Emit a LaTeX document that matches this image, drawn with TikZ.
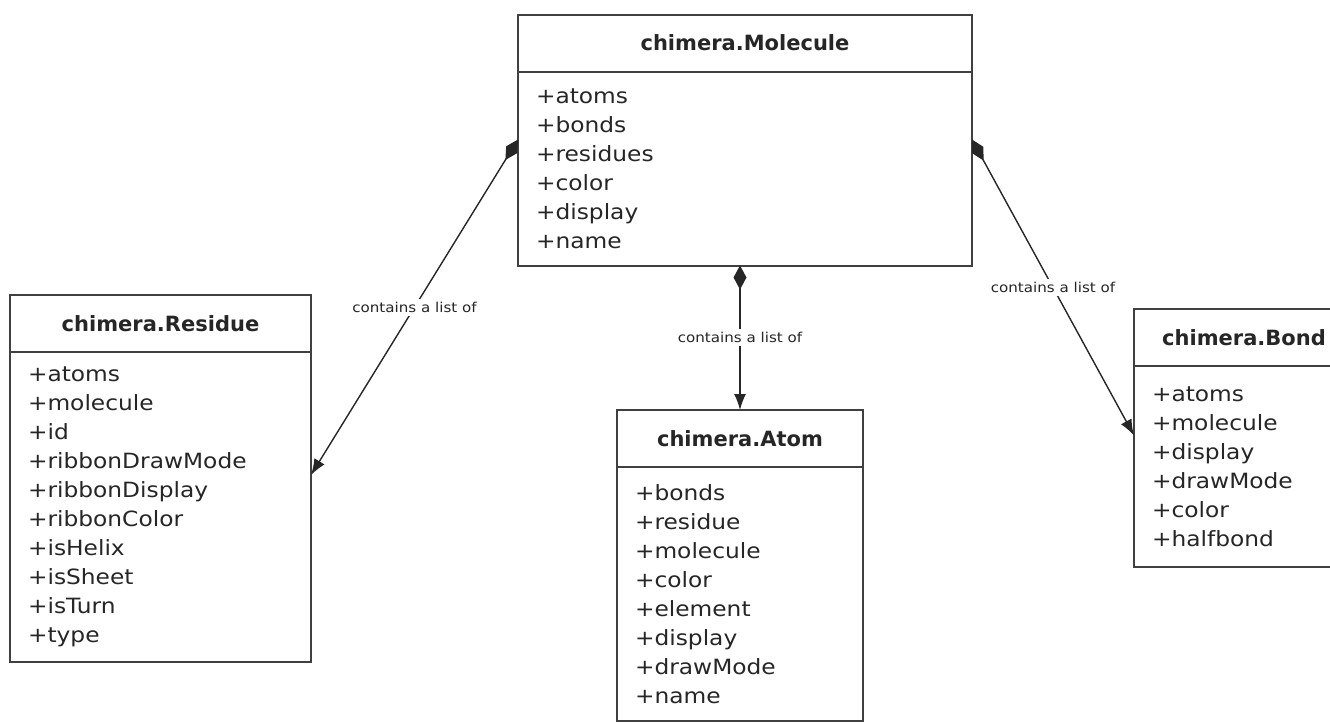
\documentclass[tikz,border=0pt]{standalone}
\usepackage{fontspec}
\setmainfont{DejaVu Sans}[FakeStretch=1.11]
\newfontfamily\titlefont{DejaVu Sans}[FakeStretch=1.0]
\usetikzlibrary{positioning,arrows.meta,calc}

\tikzset{
  classhead/.style={draw=black!75, line width=1pt, fill=white, inner sep=0pt,
    outer sep=0pt, minimum height=28.5pt, text=black!85,
    font=\titlefont\bfseries\fontsize{10.5pt}{12pt}\selectfont},
  classbody/.style={draw=black!75, line width=1pt, fill=white, inner xsep=9pt,
    inner ysep=0pt, outer sep=0pt, align=left, text=black!85,
    font=\fontsize{10.5pt}{14.5pt}\selectfont},
  assoc/.style={line width=0.7pt, black!85,
    {Diamond[length=12pt,width=6.5pt]}-{Latex[length=8pt,width=6pt]}},
  lbl/.style={fill=white, inner sep=1.5pt, text=black!85,
    font=\fontsize{6.8pt}{8pt}\selectfont}
}

\begin{document}
\begin{tikzpicture}[x=0.5pt,y=-0.5pt]
    \useasboundingbox (0,0) rectangle (1330,724);

    % Molecule class
    \node[classhead, minimum width=227pt] (molhead) at (745,43) {chimera.Molecule};
    \node[classbody, minimum height=97pt, text width=209pt, below=0pt of molhead] (molbody)
      {+atoms\\+bonds\\+residues\\+color\\+display\\+name};

    % Residue class
    \node[classhead, minimum width=150.5pt] (reshead) at (160.5,323.5) {chimera.Residue};
    \node[classbody, minimum height=155pt, text width=132.5pt, below=0pt of reshead] (resbody)
      {+atoms\\+molecule\\+id\\+ribbonDrawMode\\+ribbonDisplay\\+ribbonColor\\+isHelix\\+isSheet\\+isTurn\\+type};

    % Atom class
    \node[classhead, minimum width=123pt] (atomhead) at (740,438.5) {chimera.Atom};
    \node[classbody, minimum height=127pt, text width=105pt, below=0pt of atomhead] (atombody)
      {+bonds\\+residue\\+molecule\\+color\\+element\\+display\\+drawMode\\+name};

    % Bond class (runs off the right edge)
    \node[classhead, minimum width=110pt] (bondhead) at (1244,337.5) {chimera.Bond};
    \node[classbody, minimum height=100.5pt, text width=92pt, below=0pt of bondhead] (bondbody)
      {+atoms\\+molecule\\+display\\+drawMode\\+color\\+halfbond};

    % connector ends
    \coordinate (molleft) at ($(molbody.west)+(0,-29)$);
    \coordinate (molright) at ($(molbody.east)+(0,-29)$);
    \coordinate (molbottom) at (atomhead.north |- molbody.south);
    \coordinate (resright) at ($(resbody.east)+(0,-32)$);
    \coordinate (bondleft) at ($(bondbody.west)+(0,-31)$);

    % composition links
    \draw[assoc] (molleft) -- node[lbl] {contains a list of} (resright);
    \draw[assoc] (molbottom) -- node[lbl] {contains a list of} (atomhead.north);
    \draw[assoc] (molright) -- node[lbl] {contains a list of} (bondleft);
\end{tikzpicture}
\end{document}
